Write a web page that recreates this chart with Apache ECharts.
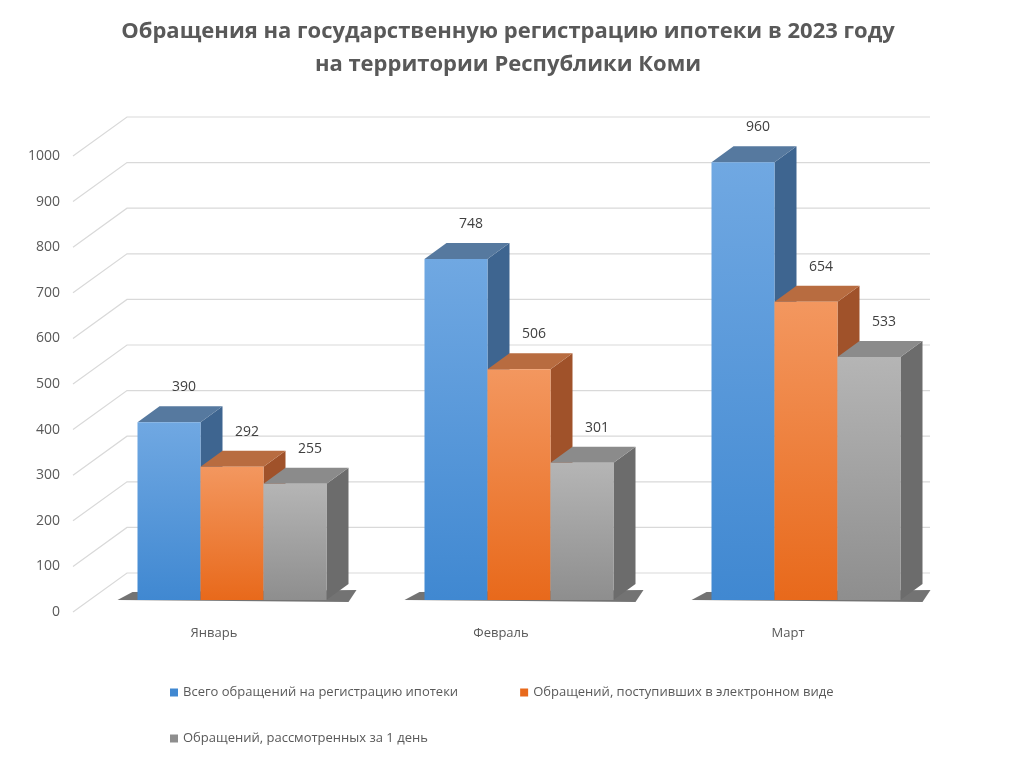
<!DOCTYPE html>
<html><head><meta charset="utf-8">
<script src="https://cdn.jsdelivr.net/npm/echarts@6/dist/echarts.min.js"></script>
<style>body{margin:0;background:#fff}#c{width:1016px;height:768px}</style></head>
<body><div id="c"></div>
<script>
const categories = ['Январь','Февраль','Март'];
const seriesNames = ['Всего обращений на регистрацию ипотеки','Обращений, поступивших в электронном виде','Обращений, рассмотренных за 1 день'];
const total = [390, 748, 960];
const electronic = [292, 506, 654];
const oneDay = [255, 301, 533];
const ticks = [0,100,200,300,400,500,600,700,800,900,1000];

const palettes = [
  {f:['#70a8e2','#4088d1'], top:'#56799f', side:'#3e6590'},
  {f:['#f3975f','#e8691b'], top:'#b86c40', side:'#a0522a'},
  {f:['#b5b5b5','#8e8e8e'], top:'#8b8b8b', side:'#6c6c6c'}
];
const DX=22, DY=-16, BW=63;
const chart = echarts.init(document.getElementById('c'));

function barSeries(idx, data){
  return {
    type:'custom', name:seriesNames[idx], data:data.map((v,i)=>[i,v]), z:5+idx,
    itemStyle:{color:palettes[idx].f[1]},
    renderItem(params, api){
      const c = api.coord([api.value(0), api.value(1)]);
      const b = api.coord([api.value(0), 0]);
      const x0 = c[0] + (idx-1)*BW - BW/2, x1 = x0+BW, yt=c[1], yb=b[1];
      const p = palettes[idx];
      const kids = [];
      if(idx===0){
        kids.push({type:'polygon', shape:{points:[[x0-20,yb],[x0+3*BW+DX,yb+2],[x0+3*BW+DX+8,yb-10],[x0-5,yb-8]]},
          style:{fill:'rgba(0,0,0,0.55)'}, z2:0, style2:null});
      }
      kids.push({type:'polygon', shape:{points:[[x1,yt],[x1+DX,yt+DY],[x1+DX,yb+DY],[x1,yb]]}, style:{fill:p.side}});
      kids.push({type:'polygon', shape:{points:[[x0,yt],[x0+DX,yt+DY],[x1+DX,yt+DY],[x1,yt]]}, style:{fill:p.top}});
      kids.push({type:'rect', shape:{x:x0,y:yt,width:BW,height:yb-yt},
        style:{fill:new echarts.graphic.LinearGradient(0,0,0,1,[{offset:0,color:p.f[0]},{offset:1,color:p.f[1]}])}});
      kids.push({type:'text', style:{text:String(api.value(1)), x:(x0+x1)/2+15, y:yt-35, align:'center', verticalAlign:'middle',
        fill:'#404040', font:'14px "Open Sans", sans-serif'}});
      if(idx===1){
        kids.push({type:'text', style:{text:categories[api.value(0)], x:(x0+x1)/2-18, y:633, align:'center', verticalAlign:'middle',
          fill:'#595959', font:'13px "Open Sans", sans-serif'}});
      }
      return {type:'group', children:kids};
    }
  };
}

const option = {
  animation:false,
  title:{text:'Обращения на государственную регистрацию ипотеки в 2023 году\nна территории Республики Коми', left:'center', top:10,
    textStyle:{fontSize:22, fontWeight:'bold', color:'#595959', lineHeight:33, fontFamily:'"Open Sans", sans-serif'}},
  grid:{left:88.5, right:1016-949.5, top:144, height:456},
  xAxis:{type:'category', data:categories, show:false},
  yAxis:{type:'value', min:0, max:1000, interval:100, show:false},
  legend:[
    {data:seriesNames.slice(0,2), left:165, top:681, itemWidth:8, itemHeight:8, itemGap:62, icon:'rect',
      textStyle:{fontSize:13, color:'#595959', fontFamily:'"Open Sans", sans-serif'}},
    {data:seriesNames.slice(2), left:165, top:727, itemWidth:8, itemHeight:8, icon:'rect',
      textStyle:{fontSize:13, color:'#595959', fontFamily:'"Open Sans", sans-serif'}}
  ],
  series:[
    {type:'custom', silent:true, z:1, data:ticks.map(t=>[0,t]),
      renderItem(params, api){
        const c = api.coord([0, api.value(1)]);
        const fy = c[1]+12;
        return {type:'group', children:[
          {type:'polyline', shape:{points:[[73,fy],[127,fy-39],[930,fy-39]]}, style:{stroke:'#d9d9d9', lineWidth:1.2, fill:null}},
          {type:'text', style:{text:String(api.value(1)), x:60, y:fy, align:'right', verticalAlign:'middle',
            fill:'#595959', font:'14px "Open Sans", sans-serif'}}
        ]};
      }},
    barSeries(0,total), barSeries(1,electronic), barSeries(2,oneDay)
  ]
};
chart.setOption(option);
</script></body></html>
